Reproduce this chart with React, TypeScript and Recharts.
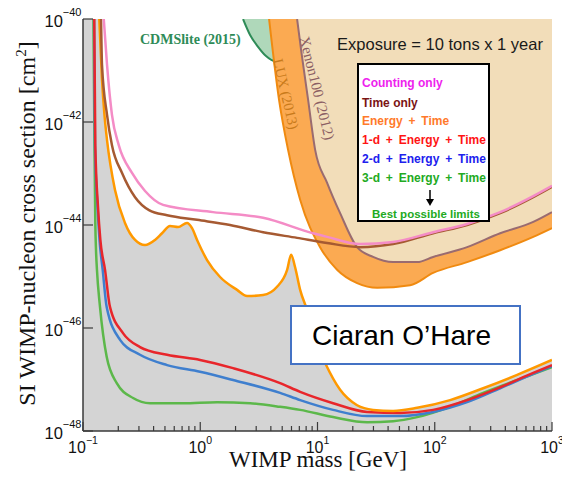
import React from 'react';
import { ComposedChart, Area, Line, XAxis, YAxis } from 'recharts';

// every curve: [log10(WIMP mass / GeV), log10(cross section / cm^2)]
const countingOnly: number[][] = [
  [-0.823, -40], [-0.795, -40.89], [-0.753, -41.86], [-0.695, -42.45], [-0.582, -42.99],
  [-0.471, -43.34], [-0.317, -43.61], [0.109, -43.75], [0.536, -43.86], [0.962, -44.16],
  [1.082, -44.23], [1.363, -44.37], [1.645, -44.33], [1.986, -44.14], [2.276, -43.98],
  [2.558, -43.75], [2.84, -43.44], [3.0, -43.24],
];

const timeOnly: number[][] = [
  [-0.846, -40], [-0.838, -40.89], [-0.795, -41.86], [-0.753, -42.45], [-0.667, -42.99],
  [-0.556, -43.46], [-0.437, -43.71], [-0.283, -43.81], [-0.027, -43.9], [0.254, -44.0],
  [0.536, -44.14], [0.826, -44.25], [1.082, -44.35], [1.363, -44.43], [1.645, -44.37],
  [1.986, -44.16], [2.276, -44.0], [2.558, -43.77], [2.84, -43.46], [3.0, -43.26],
];

const energyTime: number[][] = [
  [-0.861, -40], [-0.838, -41.18], [-0.817, -41.86], [-0.795, -42.35], [-0.727, -43.32],
  [-0.642, -43.96], [-0.556, -44.29], [-0.471, -44.39], [-0.386, -44.29], [-0.326, -44.16],
  [-0.258, -44.02], [-0.189, -44.04], [-0.113, -43.96], [-0.07, -44.06], [-0.027, -44.29],
  [0.058, -44.68], [0.169, -45.01], [0.314, -45.26], [0.399, -45.38], [0.536, -45.36],
  [0.655, -45.2], [0.741, -44.87], [0.775, -44.58], [0.809, -44.82], [0.852, -45.26],
  [0.911, -45.65], [0.997, -46.33], [1.065, -46.68], [1.193, -47.2], [1.338, -47.5],
  [1.474, -47.59], [1.645, -47.61], [1.85, -47.55], [2.131, -47.4], [2.413, -47.17],
  [2.703, -46.91], [3.0, -46.62],
];

const oneD: number[][] = [
  [-0.904, -40], [-0.895, -42.45], [-0.872, -43.65], [-0.852, -44.29], [-0.812, -44.87],
  [-0.77, -45.59], [-0.659, -46.1], [-0.514, -46.37], [-0.283, -46.52], [-0.002, -46.62],
  [0.28, -46.78], [0.681, -47.07], [0.852, -47.24], [1.133, -47.46], [1.423, -47.63],
  [1.705, -47.65], [1.986, -47.59], [2.276, -47.4], [2.558, -47.15], [2.84, -46.87],
  [3.0, -46.72],
];

const twoD: number[][] = [
  [-0.906, -40], [-0.898, -42.45], [-0.876, -43.65], [-0.859, -44.29], [-0.832, -44.87],
  [-0.798, -45.59], [-0.684, -46.23], [-0.514, -46.52], [-0.283, -46.72], [-0.002, -46.85],
  [0.28, -47.01], [0.681, -47.26], [0.852, -47.4], [1.133, -47.59], [1.423, -47.71],
  [1.705, -47.71], [1.986, -47.63], [2.276, -47.44], [2.558, -47.17], [2.84, -46.89],
  [3.0, -46.74],
];

const threeD: number[][] = [
  [-0.911, -40], [-0.902, -42.45], [-0.895, -43.96], [-0.889, -44.49], [-0.881, -44.87],
  [-0.855, -45.59], [-0.798, -46.56], [-0.712, -47.07], [-0.573, -47.36], [-0.428, -47.46],
  [-0.147, -47.46], [0.143, -47.44], [0.425, -47.46], [0.681, -47.53], [0.852, -47.59],
  [1.133, -47.73], [1.423, -47.83], [1.645, -47.81], [1.85, -47.73], [2.131, -47.53],
  [2.413, -47.26], [2.703, -47.01], [3.0, -46.76],
];

const cdmslite: number[][] = [
  [0.365, -40], [0.425, -40.31], [0.493, -40.54], [0.561, -40.72], [0.638, -40.82], [0.78, -40.8],
];

const lux: number[][] = [
  [0.587, -40], [0.672, -41.57], [0.749, -42.54], [0.852, -43.51], [1.022, -44.43],
  [1.167, -44.87], [1.338, -45.13], [1.509, -45.22], [1.79, -45.17], [1.986, -44.93],
  [2.276, -44.72], [2.558, -44.49], [2.84, -44.23], [3.0, -44.06],
];

const xenon100: number[][] = [
  [0.826, -40], [0.86, -40.6], [0.92, -41.57], [0.98, -42.54], [1.082, -43.18],
  [1.193, -43.77], [1.338, -44.43], [1.474, -44.62], [1.645, -44.72], [1.85, -44.72],
  [1.986, -44.62], [2.276, -44.43], [2.558, -44.16], [2.84, -43.94], [3.0, -43.75],
];

const xMajor = [-1, 0, 1, 2, 3];
const xExpLabels = ['\u22121', '0', '1', '2', '3'];
const yMajor = [-48, -46, -44, -42, -40];
const yExpLabels = ['\u221248', '\u221246', '\u221244', '\u221242', '\u221240'];
const minorSteps = [2, 3, 4, 5, 6, 7, 8, 9];

const xTicks = [
  ...xMajor,
  ...xMajor.slice(0, -1).flatMap((d) => minorSteps.map((k) => d + Math.log10(k))),
].sort((a, b) => a - b);

const rows = (pts: number[][]) => pts.map(([x, y]) => ({ x, y }));
const grayRows = rows([[-1, -40], ...energyTime]);

const AXIS = '#3a3a3a';
const TICK_FONT = '"Liberation Sans", Arial, sans-serif';
const SERIF = '"Liberation Serif", "Times New Roman", serif';

const isMajor = (v: number) => Math.abs(v - Math.round(v)) < 1e-6;

const BottomTick = (props: any) => {
  const { x, y, payload } = props;
  const v = payload.value;
  const major = isMajor(v);
  const i = xMajor.indexOf(Math.round(v));
  return (
    <g>
      <line x1={x} y1={y} x2={x} y2={y - (major ? 9 : 5)} stroke={AXIS} strokeWidth={1.2} />
      {major && (
        <text x={x} y={y + 22} textAnchor="middle" fontFamily={TICK_FONT} fontSize={16} fill="#111">
          <tspan>10</tspan>
          <tspan dy={-9} fontSize={10.5}>{xExpLabels[i]}</tspan>
        </text>
      )}
    </g>
  );
};

const TopTick = (props: any) => {
  const { x, y, payload } = props;
  const major = isMajor(payload.value);
  return <line x1={x} y1={y} x2={x} y2={y + (major ? 9 : 5)} stroke={AXIS} strokeWidth={1.2} />;
};

const LeftTick = (props: any) => {
  const { x, y, payload } = props;
  const i = yMajor.indexOf(payload.value);
  return (
    <g>
      <line x1={x} y1={y} x2={x + 10} y2={y} stroke={AXIS} strokeWidth={1.2} />
      <text x={x - 1.5} y={y + 7.5} textAnchor="end" fontFamily={TICK_FONT} fontSize={16.5} fill="#111">
        <tspan>10</tspan>
        <tspan dy={-10.5} fontSize={11}>{yExpLabels[i]}</tspan>
      </text>
    </g>
  );
};

const RightTick = (props: any) => {
  const { x, y } = props;
  return <line x1={x} y1={y} x2={x - 9} y2={y} stroke={AXIS} strokeWidth={1.2} />;
};

const legendRows = [
  { text: 'Counting only', color: '#EE22EE', y: 87 },
  { text: 'Time only', color: '#7A1414', y: 107 },
  { text: 'Energy + Time', color: '#FF7A2A', y: 125 },
  { text: '1-d + Energy + Time', color: '#FF1414', y: 144 },
  { text: '2-d + Energy + Time', color: '#2020EE', y: 163 },
  { text: '3-d + Energy + Time', color: '#22AA22', y: 182 },
];

export default function App() {
  return (
    <div style={{ position: 'absolute', left: 0, top: 0, width: 562, height: 482, background: '#fff' }}>
      <ComposedChart width={562} height={482} margin={{ top: 19, right: 10, bottom: 0, left: 0 }}>
        <XAxis
          type="number" dataKey="x" domain={[-1, 3]} ticks={xTicks} interval={0}
          height={51} tickSize={0} tickMargin={0} tickLine={false}
          axisLine={{ stroke: AXIS, strokeWidth: 1.5 }} tick={(p: any) => <BottomTick {...p} />}
          allowDataOverflow
        />
        <XAxis
          xAxisId="top" orientation="top" type="number" dataKey="x" domain={[-1, 3]} ticks={xTicks}
          interval={0} height={0} tickSize={0} tickMargin={0} tickLine={false}
          axisLine={{ stroke: AXIS, strokeWidth: 1.5 }} tick={(p: any) => <TopTick {...p} />}
          allowDataOverflow
        />
        <YAxis
          type="number" domain={[-48, -40]} ticks={yMajor} interval={0} width={83}
          tickSize={0} tickMargin={0} tickLine={false}
          axisLine={{ stroke: AXIS, strokeWidth: 1.5 }} tick={(p: any) => <LeftTick {...p} />}
          allowDataOverflow
        />
        <YAxis
          yAxisId="right" orientation="right" type="number" domain={[-48, -40]} ticks={yMajor}
          interval={0} width={0} tickSize={0} tickMargin={0} tickLine={false}
          axisLine={{ stroke: AXIS, strokeWidth: 1.5 }} tick={(p: any) => <RightTick {...p} />}
          allowDataOverflow
        />

        <Area data={grayRows} dataKey="y" type="monotone" baseValue={-48}
          fill="#D4D4D4" fillOpacity={1} stroke="none" isAnimationActive={false} />
        <Area data={rows(cdmslite)} dataKey="y" type="monotone" baseValue={-40}
          fill="#AFD8BA" fillOpacity={1} stroke="#2E8B57" strokeWidth={2} isAnimationActive={false} />
        <Area data={rows(lux)} dataKey="y" type="monotone" baseValue={-40}
          fill="#FBAA52" fillOpacity={1} stroke="#F08A10" strokeWidth={2} isAnimationActive={false} />
        <Area data={rows(xenon100)} dataKey="y" type="monotone" baseValue={-40}
          fill="#F2DDB9" fillOpacity={1} stroke="#9A6B70" strokeWidth={2} isAnimationActive={false} />

        <Line data={rows(threeD)} dataKey="y" type="monotone" stroke="#5CB84A" strokeWidth={2.5} dot={false} isAnimationActive={false} />
        <Line data={rows(twoD)} dataKey="y" type="monotone" stroke="#3F7FCE" strokeWidth={2.5} dot={false} isAnimationActive={false} />
        <Line data={rows(oneD)} dataKey="y" type="monotone" stroke="#E8262B" strokeWidth={2.5} dot={false} isAnimationActive={false} />
        <Line data={rows(energyTime)} dataKey="y" type="monotone" stroke="#FF9900" strokeWidth={2.5} dot={false} isAnimationActive={false} />
        <Line data={rows(timeOnly)} dataKey="y" type="monotone" stroke="#A65A32" strokeWidth={2.5} dot={false} isAnimationActive={false} />
        <Line data={rows(countingOnly)} dataKey="y" type="monotone" stroke="#F48CC6" strokeWidth={2.5} dot={false} isAnimationActive={false} />
      </ComposedChart>

      <svg width={562} height={482} style={{ position: 'absolute', left: 0, top: 0, pointerEvents: 'none' }}>
        <text x={140} y={43.5} fontFamily={SERIF} fontWeight="bold" fontSize={14} fill="#2E8B57">CDMSlite (2015)</text>
        <text transform="translate(286,94) rotate(77)" textAnchor="middle" dominantBaseline="central"
          fontFamily={SERIF} fontSize={14.5} fill="#C97A1A">LUX (2013)</text>
        <text transform="translate(317,88) rotate(76)" textAnchor="middle" dominantBaseline="central"
          fontFamily={SERIF} fontSize={15} fill="#8B5D63">Xenon100 (2012)</text>
        <text x={440} y={50} textAnchor="middle" fontFamily={TICK_FONT} fontSize={16.5} fill="#1a1a1a">
          Exposure = 10 tons x 1 year
        </text>

        <rect x={358} y={64} width={131} height={157} fill="#fff" stroke="#000" strokeWidth={2} />
        {legendRows.map((r) => (
          <text key={r.text} x={362} y={r.y} fontFamily={TICK_FONT} fontWeight="bold" fontSize={12}
            wordSpacing={r.text.includes('+') ? 2.5 : 0} fill={r.color}>
            {r.text}
          </text>
        ))}
        <line x1={430} y1={190} x2={430} y2={200} stroke="#000" strokeWidth={1.5} />
        <polygon points="426,199 434,199 430,206" fill="#000" />
        <text x={372} y={218} fontFamily={TICK_FONT} fontWeight="bold" fontSize={11.5} fill="#22AA22">
          Best possible limits
        </text>

        <rect x={291} y={306} width={229} height={58} fill="#fff" stroke="#4472C4" strokeWidth={2} />
        <text x={312} y={345} fontFamily={TICK_FONT} fontSize={28} fill="#000">Ciaran O{'\u2019'}Hare</text>

        <text x={318} y={467} textAnchor="middle" fontFamily={SERIF} fontSize={23} fill="#111">
          WIMP mass [GeV]
        </text>
        <text transform="translate(35,223.5) rotate(-90)" textAnchor="middle" fontFamily={SERIF} fontSize={24} fill="#111">
          SI WIMP-nucleon cross section [cm<tspan dy={-9} fontSize={15}>2</tspan><tspan dy={9}>]</tspan>
        </text>
      </svg>
    </div>
  );
}
